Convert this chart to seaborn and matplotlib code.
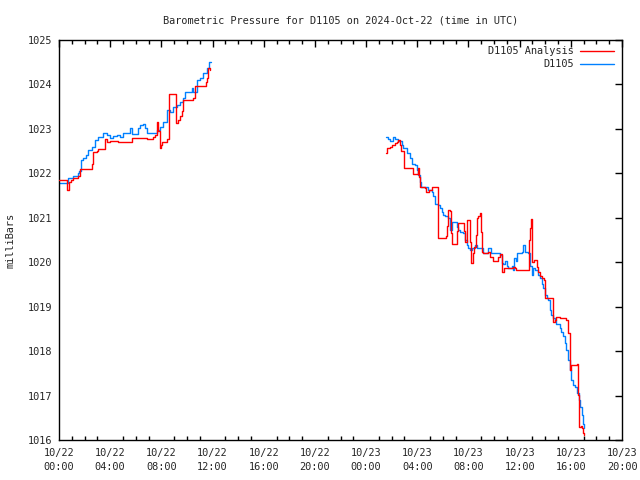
import numpy as np
import pandas as pd
import matplotlib
matplotlib.use("Agg")
import matplotlib.pyplot as plt
import seaborn as sns
from matplotlib.ticker import MultipleLocator
from matplotlib.lines import Line2D

# ---- data (hours since 2024-10-22 00:00 UTC, pressure in mbar) ----
obs_hours_a = [0.0, 0.73, 1.12, 1.51, 1.60, 1.69, 1.90, 2.11, 2.29, 2.55, 2.81, 3.07, 3.46, 3.72,
               3.98, 4.24, 4.51, 4.77, 5.03, 5.42, 5.55, 5.68, 6.07, 6.20, 6.33, 6.59, 6.72, 6.85,
               7.50, 7.63, 7.89, 8.15, 8.41, 8.67, 8.93, 9.20, 9.45, 9.71, 9.84, 10.23, 10.36,
               10.50, 10.76, 11.02, 11.27, 11.54, 11.74, 11.85]
obs_press_a = [1021.79, 1021.89, 1021.93, 1022.00, 1022.05, 1022.30, 1022.34, 1022.41, 1022.53,
               1022.60, 1022.75, 1022.81, 1022.90, 1022.86, 1022.80, 1022.83, 1022.86, 1022.81,
               1022.90, 1022.90, 1023.01, 1022.88, 1022.88, 1023.01, 1023.09, 1023.10, 1023.03,
               1022.90, 1022.90, 1022.98, 1023.05, 1023.16, 1023.43, 1023.39, 1023.50, 1023.53,
               1023.61, 1023.69, 1023.84, 1023.84, 1023.92, 1023.84, 1024.10, 1024.14, 1024.25,
               1024.36, 1024.51, 1024.51]

obs_hours_b = [25.55, 25.70, 25.86, 26.12, 26.25, 26.51, 26.77, 26.90, 27.16, 27.42, 27.55, 27.81,
               27.94, 28.07, 28.20, 28.33, 28.59, 28.85, 29.12, 29.24, 29.38, 29.63, 29.77, 29.90,
               30.02, 30.16, 30.41, 30.55, 30.68, 30.94, 31.07, 31.20, 31.33, 31.54, 31.72, 31.85,
               31.98, 32.11, 32.24, 32.50, 32.63, 33.02, 33.15, 33.54, 33.80, 34.32, 34.45, 34.59,
               34.71, 34.84, 34.98, 35.10, 35.37, 35.49, 35.57, 35.70, 35.80, 36.15, 36.27, 36.41,
               36.66, 36.80, 36.93, 37.05, 37.19, 37.45, 37.58, 37.71, 37.84, 37.97, 38.10, 38.23,
               38.36, 38.49, 38.62, 38.75, 38.88, 39.14, 39.27, 39.40, 39.53, 39.66, 39.79, 39.92,
               40.05, 40.18, 40.31, 40.45, 40.52, 40.63, 40.70, 40.84, 40.96, 41.04]
obs_press_b = [1022.81, 1022.77, 1022.73, 1022.81, 1022.77, 1022.73, 1022.64, 1022.56, 1022.45,
               1022.34, 1022.22, 1022.19, 1022.08, 1021.97, 1021.81, 1021.70, 1021.70, 1021.63,
               1021.59, 1021.48, 1021.32, 1021.28, 1021.21, 1021.13, 1021.06, 1021.03, 1021.00,
               1020.73, 1020.91, 1020.91, 1020.80, 1020.73, 1020.69, 1020.65, 1020.50, 1020.39,
               1020.31, 1020.28, 1020.31, 1020.39, 1020.31, 1020.31, 1020.21, 1020.31, 1020.20,
               1020.20, 1020.17, 1019.98, 1019.95, 1020.02, 1019.91, 1019.86, 1019.91, 1019.83,
               1020.09, 1020.02, 1020.20, 1020.24, 1020.39, 1020.24, 1020.20, 1019.91, 1019.71,
               1019.86, 1019.83, 1019.71, 1019.64, 1019.52, 1019.41, 1019.26, 1019.19, 1019.15,
               1018.93, 1018.81, 1018.74, 1018.70, 1018.61, 1018.51, 1018.44, 1018.33, 1018.18,
               1018.03, 1017.80, 1017.58, 1017.35, 1017.24, 1017.20, 1017.19, 1017.05, 1016.90,
               1016.75, 1016.56, 1016.37, 1016.28]

ana_hours_a = [0.0, 0.60, 0.66, 0.79, 0.92, 1.12, 1.51, 1.64, 2.42, 2.55, 2.68, 2.94, 3.07, 3.59,
               3.72, 3.98, 4.64, 5.68, 6.85, 7.37, 7.50, 7.63, 7.76, 7.89, 7.95, 8.02, 8.41, 8.62,
               9.14, 9.32, 9.45, 9.58, 9.66, 10.44, 10.63, 11.48, 11.59, 11.67, 11.80]
ana_press_a = [1021.85, 1021.85, 1021.63, 1021.81, 1021.85, 1021.90, 1021.95, 1022.09, 1022.09,
               1022.22, 1022.47, 1022.50, 1022.55, 1022.77, 1022.70, 1022.73, 1022.70, 1022.79,
               1022.77, 1022.81, 1022.86, 1023.16, 1022.95, 1022.56, 1022.64, 1022.70, 1022.77,
               1023.79, 1023.14, 1023.20, 1023.30, 1023.40, 1023.65, 1023.70, 1023.97, 1024.05,
               1024.15, 1024.36, 1024.33]

ana_hours_b = [25.55, 25.65, 25.86, 26.00, 26.25, 26.38, 26.51, 26.64, 26.69, 26.95, 27.63, 28.07,
               28.15, 28.25, 28.59, 28.67, 28.78, 28.93, 29.12, 29.63, 30.23, 30.34, 30.44, 30.55,
               30.63, 30.73, 31.12, 31.20, 31.64, 31.72, 31.85, 32.11, 32.19, 32.32, 32.42, 32.58,
               32.63, 32.76, 32.89, 32.97, 33.02, 33.15, 33.54, 33.67, 33.93, 34.32, 34.50, 34.59,
               34.66, 34.77, 34.98, 35.37, 35.49, 35.62, 35.75, 36.72, 36.80, 36.85, 36.93, 36.98,
               37.11, 37.32, 37.37, 37.45, 37.58, 37.71, 37.89, 37.97, 38.57, 38.75, 38.88, 39.14,
               39.66, 39.79, 39.92, 39.97, 40.05, 40.52, 40.57, 40.63, 40.66, 40.76, 40.84, 40.96,
               41.04]
ana_press_b = [1022.45, 1022.56, 1022.60, 1022.64, 1022.68, 1022.71, 1022.74, 1022.64, 1022.50,
               1022.11, 1021.99, 1022.13, 1021.91, 1021.70, 1021.67, 1021.57, 1021.59, 1021.63,
               1021.70, 1020.54, 1020.60, 1020.82, 1021.18, 1021.15, 1020.66, 1020.41, 1020.70,
               1020.88, 1020.70, 1020.46, 1020.95, 1020.46, 1019.98, 1020.20, 1020.34, 1020.61,
               1020.99, 1021.03, 1021.10, 1020.69, 1020.24, 1020.20, 1020.24, 1020.12, 1020.03,
               1020.12, 1020.19, 1019.98, 1019.79, 1019.86, 1019.87, 1019.86, 1019.90, 1019.86,
               1019.83, 1020.50, 1020.76, 1020.98, 1020.76, 1020.01, 1020.05, 1020.05, 1019.90,
               1019.79, 1019.70, 1019.65, 1019.60, 1019.19, 1018.66, 1018.70, 1018.76, 1018.74,
               1018.70, 1018.40, 1017.88, 1017.58, 1017.69, 1017.72, 1017.01, 1016.90, 1016.30,
               1016.32, 1016.26, 1016.15, 1016.11]

series_names = ["D1105 Analysis", "D1105"]
series_colors = ["#ff0000", "#0080ff"]
tick_hours = list(range(0, 45, 4))
tick_labels = ["10/22\n00:00", "10/22\n04:00", "10/22\n08:00", "10/22\n12:00", "10/22\n16:00",
               "10/22\n20:00", "10/23\n00:00", "10/23\n04:00", "10/23\n08:00", "10/23\n12:00",
               "10/23\n16:00", "10/23\n20:00"]

def frame(hours, press, name, seg):
    return pd.DataFrame({"hours": hours, "press": press, "series": name, "seg": seg})

df = pd.concat([
    frame(ana_hours_a, ana_press_a, series_names[0], 0),
    frame(ana_hours_b, ana_press_b, series_names[0], 1),
    frame(obs_hours_a, obs_press_a, series_names[1], 0),
    frame(obs_hours_b, obs_press_b, series_names[1], 1),
], ignore_index=True)

sns.set_theme(style="white")
plt.rcParams["font.family"] = ["DejaVu Sans Mono"]
plt.rcParams["font.size"] = 7.4

fig = plt.figure(figsize=(6.4, 4.8), dpi=100)
ax = fig.add_axes([59/640, 40/480, (622-59)/640, (440-40)/480])

pal = dict(zip(series_names, series_colors))
sns.lineplot(data=df[df.series == series_names[1]], x="hours", y="press", hue="series",
             units="seg", estimator=None, palette=pal, drawstyle="steps-post",
             linewidth=1.0, ax=ax, legend=False, zorder=2)
sns.lineplot(data=df[df.series == series_names[0]], x="hours", y="press", hue="series",
             units="seg", estimator=None, palette=pal, drawstyle="steps-post",
             linewidth=1.0, ax=ax, legend=False, zorder=3)

ax.set_xlim(0, 44)
ax.set_ylim(1016, 1025)
ax.set_xticks(tick_hours)
ax.set_xticklabels(tick_labels, fontsize=7.4, linespacing=1.4)
ax.xaxis.set_minor_locator(MultipleLocator(1))
ax.set_yticks(range(1016, 1026))
ax.tick_params(axis="x", which="major", pad=6)
ax.tick_params(axis="y", which="major", pad=5)
ax.tick_params(axis="both", which="major", direction="in", length=5, width=1,
               top=True, right=True, labelsize=7.4, color="black")
ax.tick_params(axis="x", which="minor", direction="in", length=3, width=1,
               top=True, bottom=True, color="black")
ax.tick_params(axis="y", which="minor", left=False, right=False)
for s in ax.spines.values():
    s.set_color("black")
    s.set_linewidth(1.0)
ax.set_xlabel("")
ax.set_ylabel("milliBars", fontsize=7.4, labelpad=9)
ax.set_title("Barometric Pressure for D1105 on 2024-Oct-22 (time in UTC)", fontsize=7.4, pad=12)

handles = [Line2D([], [], color=c, linewidth=1.0) for c in series_colors]
leg = ax.legend(handles, series_names, loc="upper right", frameon=False, markerfirst=False,
                fontsize=7.4, handlelength=3.3, handletextpad=0.6, labelspacing=0.3,
                borderaxespad=0.2, bbox_to_anchor=(0.997, 1.0))
for t in leg.get_texts():
    t.set_ha("right")
leg._legend_box.align = "right"

fig.savefig("out.png", dpi=100)
